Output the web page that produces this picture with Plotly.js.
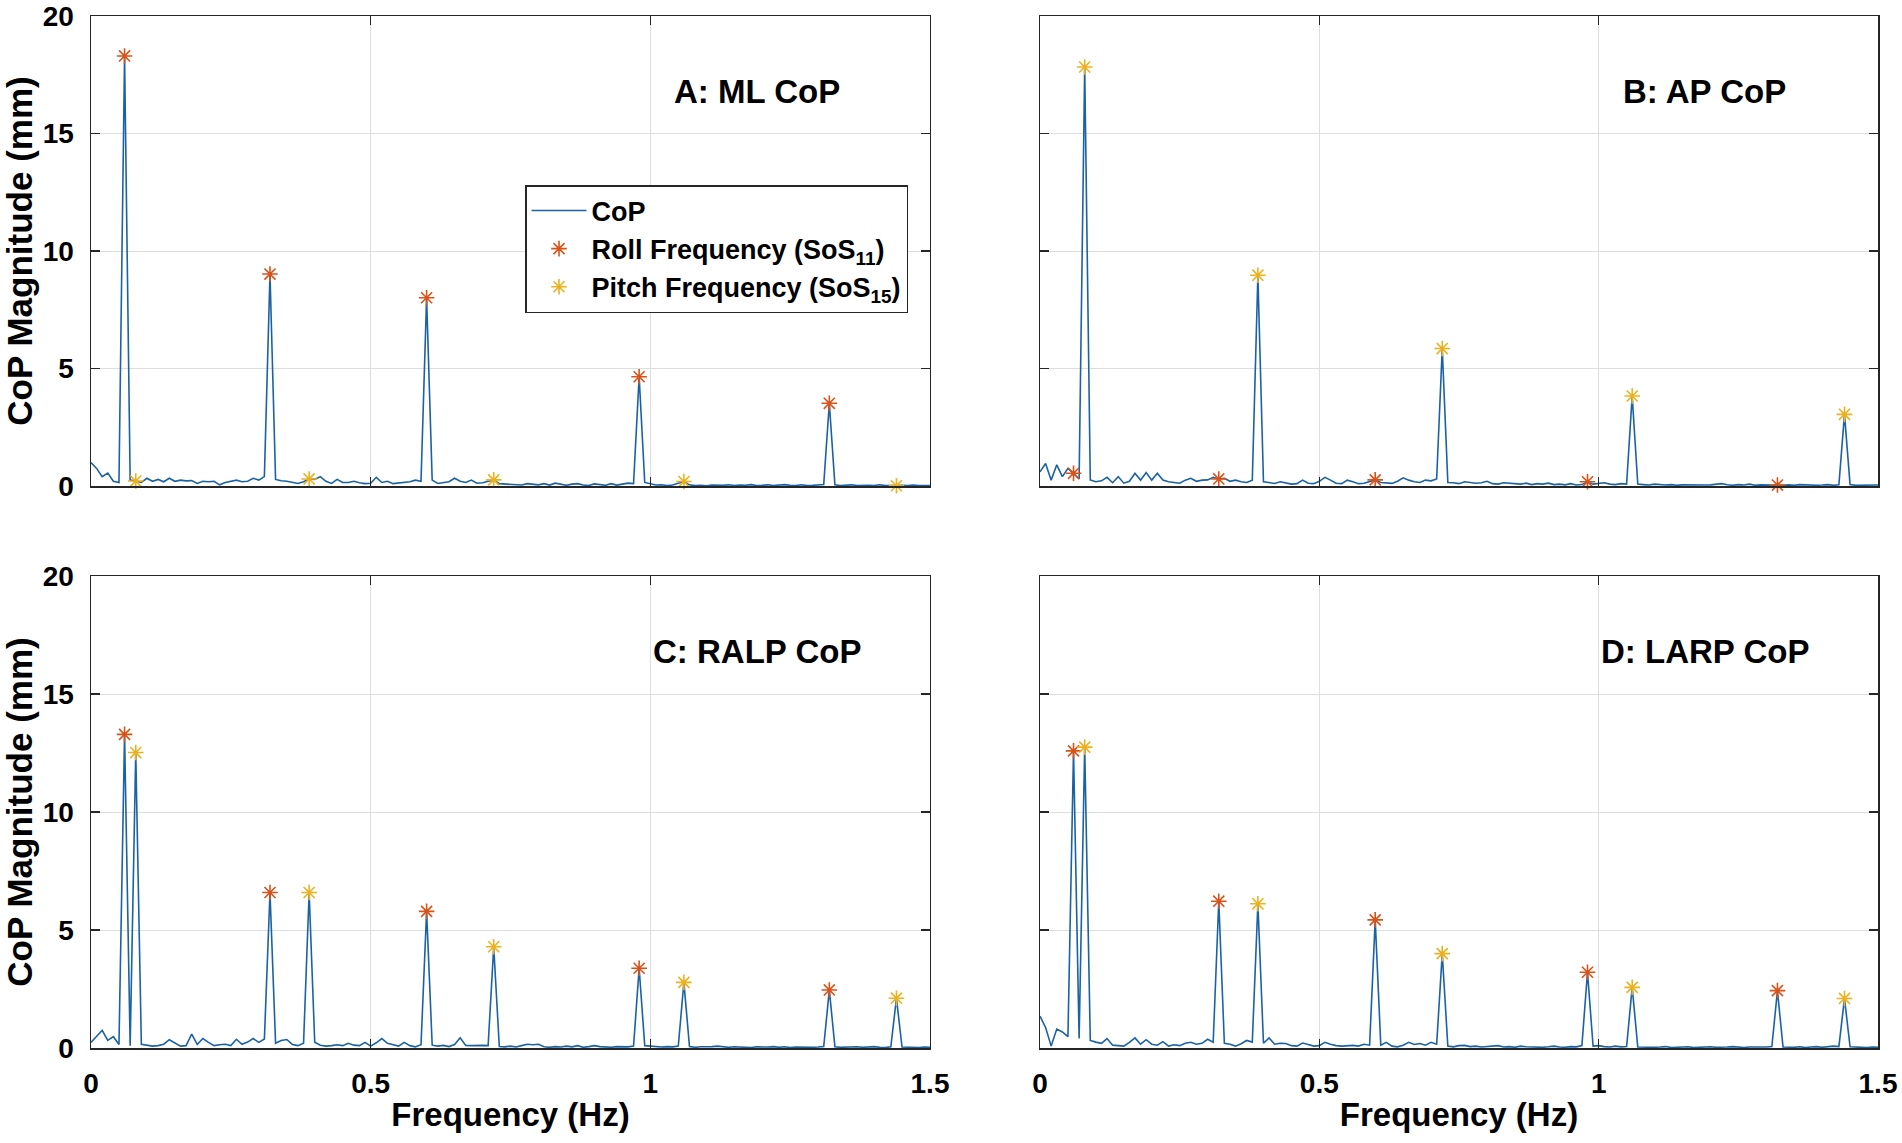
<!DOCTYPE html>
<html>
<head>
<meta charset="utf-8">
<script src="https://cdn.plot.ly/plotly-3.0.1.min.js"></script>
<style>
    html, body { margin: 0; padding: 0; background: #ffffff; }
    #chart { width: 1902px; height: 1143px; }
</style>
</head>
<body>
<div id="chart"></div>
<script>
// spectrum bins: 0 .. 1.5 Hz, one value every 0.01 Hz
const freqStart = 0;
const freqStep = 0.01;

// stimulus frequencies (Hz)
const rollFreq = [0.06, 0.32, 0.60, 0.98, 1.32];
const pitchFreq = [0.08, 0.39, 0.72, 1.06, 1.44];

// CoP magnitude (mm)
const mlCop = [
    1.0, 0.75, 0.4, 0.55, 0.2, 0.15, 18.3, 0.25, 0.21, 0.15,
    0.33, 0.2, 0.28, 0.18, 0.33, 0.2, 0.25, 0.22, 0.23, 0.11,
    0.2, 0.18, 0.2, 0.05, 0.15, 0.2, 0.25, 0.18, 0.2, 0.33,
    0.25, 0.4, 9.02, 0.28, 0.22, 0.2, 0.15, 0.11, 0.18, 0.3,
    0.28, 0.4, 0.2, 0.11, 0.28, 0.15, 0.15, 0.2, 0.14, 0.1,
    0.12, 0.37, 0.15, 0.2, 0.1, 0.12, 0.15, 0.18, 0.25, 0.2,
    8.01, 0.25, 0.11, 0.15, 0.18, 0.33, 0.2, 0.15, 0.25, 0.12,
    0.14, 0.2, 0.26, 0.1, 0.08, 0.05, 0.06, 0.04, 0.1, 0.06,
    0.05, 0.1, 0.04, 0.12, 0.06, 0.03, 0.08, 0.1, 0.04, 0.02,
    0.09, 0.05, 0.03, 0.1, 0.04, 0.08, 0.12, 0.1, 4.65, 0.15,
    0.08, 0.04, 0.05, 0.02, 0.04, 0.1, 0.19, 0.05, 0.02, 0.03,
    0.01, 0.04, 0.02, 0.03, 0.05, 0.02, 0.04, 0.03, 0.06, 0.02,
    0.03, 0.05, 0.02, 0.04, 0.06, 0.03, 0.02, 0.05, 0.02, 0.03,
    0.04, 0.06, 3.52, 0.05, 0.02, 0.03, 0.05, 0.02, 0.04, 0.03,
    0.02, 0.05, 0.02, 0.03, 0.01, 0.03, 0.02, 0.04, 0.02, 0.03, 0.02,
];
const apCop = [
    0.6, 0.96, 0.25, 0.9, 0.4, 0.75, 0.54, 0.3, 17.83, 0.26,
    0.18, 0.22, 0.37, 0.14, 0.4, 0.12, 0.2, 0.54, 0.25, 0.57,
    0.25, 0.54, 0.25, 0.18, 0.15, 0.12, 0.25, 0.33, 0.2, 0.25,
    0.26, 0.37, 0.3, 0.33, 0.2, 0.25, 0.18, 0.15, 0.25, 8.97,
    0.18, 0.15, 0.11, 0.18, 0.12, 0.08, 0.1, 0.25, 0.12, 0.1,
    0.2, 0.37, 0.25, 0.12, 0.1, 0.25, 0.18, 0.1, 0.12, 0.2,
    0.26, 0.15, 0.14, 0.11, 0.2, 0.35, 0.25, 0.18, 0.15, 0.25,
    0.22, 0.3, 5.85, 0.15, 0.14, 0.1, 0.18, 0.15, 0.12, 0.14,
    0.2, 0.1, 0.08, 0.14, 0.12, 0.1, 0.08, 0.12, 0.06, 0.1,
    0.08, 0.12, 0.06, 0.08, 0.05, 0.1, 0.04, 0.06, 0.18, 0.08,
    0.12, 0.14, 0.08, 0.06, 0.1, 0.08, 3.83, 0.08, 0.06, 0.04,
    0.08, 0.05, 0.04, 0.06, 0.03, 0.05, 0.04, 0.06, 0.03, 0.04,
    0.05, 0.08, 0.1, 0.05, 0.03, 0.06, 0.04, 0.08, 0.03, 0.05,
    0.04, 0.06, 0.04, 0.03, 0.05, 0.03, 0.06, 0.04, 0.05, 0.03,
    0.04, 0.06, 0.03, 0.05, 3.05, 0.06, 0.03, 0.04, 0.05, 0.03, 0.04,
];
const ralpCop = [
    0.24, 0.5, 0.75, 0.32, 0.48, 0.15, 13.29, 0.1, 12.52, 0.16,
    0.12, 0.08, 0.1, 0.16, 0.35, 0.2, 0.08, 0.1, 0.59, 0.15,
    0.4, 0.24, 0.1, 0.14, 0.16, 0.1, 0.37, 0.16, 0.25, 0.4,
    0.24, 0.38, 6.59, 0.2, 0.32, 0.36, 0.15, 0.1, 0.2, 6.59,
    0.24, 0.12, 0.08, 0.1, 0.14, 0.1, 0.2, 0.12, 0.1, 0.24,
    0.08, 0.22, 0.4, 0.2, 0.14, 0.08, 0.24, 0.1, 0.05, 0.14,
    5.79, 0.12, 0.08, 0.11, 0.06, 0.15, 0.43, 0.11, 0.1, 0.12,
    0.11, 0.1, 4.29, 0.06, 0.05, 0.08, 0.04, 0.1, 0.16, 0.14,
    0.16, 0.05, 0.03, 0.06, 0.04, 0.08, 0.05, 0.1, 0.03, 0.06,
    0.1, 0.06, 0.04, 0.03, 0.06, 0.04, 0.05, 0.08, 3.38, 0.1,
    0.08, 0.05, 0.04, 0.06, 0.05, 0.08, 2.78, 0.06, 0.03, 0.05,
    0.04, 0.06, 0.08, 0.04, 0.03, 0.05, 0.03, 0.04, 0.02, 0.05,
    0.03, 0.04, 0.06, 0.03, 0.05, 0.02, 0.04, 0.03, 0.05, 0.03,
    0.04, 0.06, 2.46, 0.05, 0.03, 0.04, 0.02, 0.05, 0.03, 0.04,
    0.06, 0.03, 0.02, 0.05, 2.11, 0.04, 0.03, 0.05, 0.02, 0.04, 0.03,
];
const larpCop = [
    1.35, 0.87, 0.08, 0.8, 0.68, 0.48, 12.59, 0.4, 12.75, 0.32,
    0.25, 0.2, 0.4, 0.12, 0.1, 0.08, 0.24, 0.43, 0.16, 0.35,
    0.16, 0.12, 0.27, 0.08, 0.14, 0.1, 0.2, 0.24, 0.16, 0.2,
    0.37, 0.25, 6.22, 0.2, 0.16, 0.08, 0.18, 0.32, 0.25, 6.11,
    0.2, 0.43, 0.16, 0.2, 0.19, 0.1, 0.08, 0.21, 0.15, 0.08,
    0.1, 0.24, 0.16, 0.1, 0.08, 0.11, 0.11, 0.08, 0.16, 0.12,
    5.43, 0.12, 0.24, 0.08, 0.05, 0.12, 0.24, 0.15, 0.19, 0.12,
    0.24, 0.16, 4.0, 0.08, 0.05, 0.1, 0.11, 0.06, 0.08, 0.04,
    0.05, 0.08, 0.1, 0.04, 0.06, 0.03, 0.08, 0.05, 0.04, 0.06,
    0.03, 0.05, 0.08, 0.04, 0.03, 0.06, 0.05, 0.1, 3.21, 0.08,
    0.1, 0.06, 0.04, 0.08, 0.05, 0.06, 2.57, 0.04, 0.03, 0.05,
    0.03, 0.04, 0.06, 0.02, 0.04, 0.03, 0.05, 0.02, 0.04, 0.03,
    0.05, 0.03, 0.02, 0.04, 0.06, 0.03, 0.02, 0.04, 0.03, 0.05,
    0.04, 0.06, 2.43, 0.04, 0.02, 0.03, 0.05, 0.02, 0.04, 0.06,
    0.03, 0.05, 0.08, 0.06, 2.1, 0.05, 0.03, 0.04, 0.02, 0.04, 0.03,
];

const panelNames = ['A: ML CoP', 'B: AP CoP', 'C: RALP CoP', 'D: LARP CoP'];
const xTickVals = [0, 0.5, 1, 1.5];
const xTickText = ['0', '0.5', '1', '1.5'];
const yTickVals = [0, 5, 10, 15, 20];
const yTickText = ['0', '5', '10', '15', '20'];

const FONT = 'Liberation Sans, Arial, Helvetica, sans-serif';
const COP_COLOR = '#1b62a3';
const ROLL_COLOR = '#d95319';
const PITCH_COLOR = '#edb120';
const AXIS_COLOR = '#262626';

const panels = [
    { values: mlCop, xa: 'x', ya: 'y' },
    { values: apCop, xa: 'x2', ya: 'y2' },
    { values: ralpCop, xa: 'x3', ya: 'y3' },
    { values: larpCop, xa: 'x4', ya: 'y4' },
];

// value of the spectrum at a given frequency
const atFreq = (values, f) => values[Math.round((f - freqStart) / freqStep)];

const data = [];
panels.forEach((p, i) => {
    const first = i === 0;
    data.push({
        type: 'scatter',
        mode: 'lines',
        x0: freqStart,
        dx: freqStep,
        y: p.values,
        xaxis: p.xa,
        yaxis: p.ya,
        name: 'CoP',
        showlegend: first,
        line: { color: COP_COLOR, width: 1.6 },
        hoverinfo: 'skip',
    });
    data.push({
        type: 'scatter',
        mode: 'markers',
        x: rollFreq,
        y: rollFreq.map(f => atFreq(p.values, f)),
        xaxis: p.xa,
        yaxis: p.ya,
        name: 'Roll Frequency (SoS<sub>11</sub>)',
        showlegend: first,
        cliponaxis: false,
        marker: {
            symbol: 'asterisk-open',
            size: 13,
            color: ROLL_COLOR,
            line: { color: ROLL_COLOR, width: 1.6 },
        },
        hoverinfo: 'skip',
    });
    data.push({
        type: 'scatter',
        mode: 'markers',
        x: pitchFreq,
        y: pitchFreq.map(f => atFreq(p.values, f)),
        xaxis: p.xa,
        yaxis: p.ya,
        name: 'Pitch Frequency (SoS<sub>15</sub>)',
        showlegend: first,
        cliponaxis: false,
        marker: {
            symbol: 'asterisk-open',
            size: 13,
            color: PITCH_COLOR,
            line: { color: PITCH_COLOR, width: 1.6 },
        },
        hoverinfo: 'skip',
    });
});

const tickFont = { family: FONT, size: 28, color: '#000000', weight: 'bold' };
const xTitleFont = { family: FONT, size: 33, color: '#000000', weight: 'bold' };
const yTitleFont = { family: FONT, size: 35, color: '#000000', weight: 'bold' };

const baseAxis = (domain, anchor) => ({
    domain,
    anchor,
    showline: true,
    linecolor: AXIS_COLOR,
    linewidth: 1.5,
    mirror: 'ticks',
    ticks: 'inside',
    ticklen: 9,
    tickwidth: 1.5,
    tickcolor: AXIS_COLOR,
    showgrid: true,
    gridcolor: '#dedede',
    gridwidth: 1,
    zeroline: false,
    tickfont: tickFont,
    fixedrange: true,
});

const makeXAxis = (domain, anchor, showLabels) => {
    const axis = {
        ...baseAxis(domain, anchor),
        range: [0, 1.5],
        tickmode: 'array',
        tickvals: xTickVals,
        ticktext: xTickText,
        showticklabels: showLabels,
        ticklabelstandoff: 10,
    };
    if (showLabels) {
        axis.title = { text: 'Frequency (Hz)', font: xTitleFont, standoff: 5 };
    }
    return axis;
};

const makeYAxis = (domain, anchor, showLabels) => {
    const axis = {
        ...baseAxis(domain, anchor),
        range: [0, 20],
        tickmode: 'array',
        tickvals: yTickVals,
        ticktext: yTickText,
        showticklabels: showLabels,
        ticklabelstandoff: 10,
    };
    if (showLabels) {
        axis.title = { text: 'CoP Magnitude (mm)', font: yTitleFont, standoff: 3 };
    }
    return axis;
};

const leftDom = [0, 0.4695];
const rightDom = [0.53106, 1];
const topDom = [0.54457, 1];
const bottomDom = [0, 0.45736];

const annotations = panels.map((p, i) => ({
    text: panelNames[i],
    xref: p.xa,
    yref: p.ya,
    x: 1.19,
    y: 16.8,
    xanchor: 'center',
    yanchor: 'middle',
    showarrow: false,
    font: { family: FONT, size: 33, color: '#000000', weight: 'bold' },
}));

const layout = {
    width: 1902,
    height: 1143,
    margin: { l: 91, r: 24, t: 16, b: 95, pad: 0 },
    paper_bgcolor: '#ffffff',
    plot_bgcolor: '#ffffff',
    showlegend: true,
    legend: {
        x: 0.24287,
        y: 0.83624,
        xanchor: 'left',
        yanchor: 'top',
        bgcolor: '#ffffff',
        bordercolor: AXIS_COLOR,
        borderwidth: 1.5,
        font: { family: FONT, size: 27, color: '#000000', weight: 'bold' },
        itemwidth: 55,
        tracegroupgap: 0,
        traceorder: 'normal',
    },
    xaxis: makeXAxis(leftDom, 'y', false),
    yaxis: makeYAxis(topDom, 'x', true),
    xaxis2: makeXAxis(rightDom, 'y2', false),
    yaxis2: makeYAxis(topDom, 'x2', false),
    xaxis3: makeXAxis(leftDom, 'y3', true),
    yaxis3: makeYAxis(bottomDom, 'x3', true),
    xaxis4: makeXAxis(rightDom, 'y4', true),
    yaxis4: makeYAxis(bottomDom, 'x4', false),
    annotations,
};

try {
    Plotly.newPlot('chart', data, layout, { displayModeBar: false, staticPlot: true });
} catch (e) {
    console.log(e);
}
</script>
</body>
</html>
